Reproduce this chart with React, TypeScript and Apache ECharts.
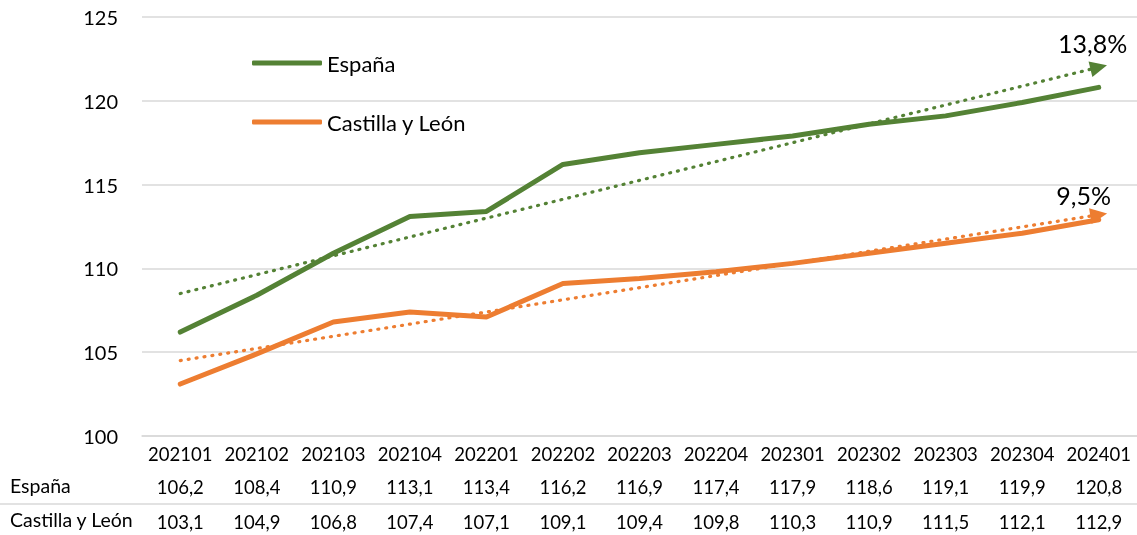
import React, { useEffect, useRef } from "react";
import * as echarts from "echarts";

const categories = ["202101","202102","202103","202104","202201","202202","202203","202204","202301","202302","202303","202304","202401"];
const espana = [106.2,108.4,110.9,113.1,113.4,116.2,116.9,117.4,117.9,118.6,119.1,119.9,120.8];
const castilla = [103.1,104.9,106.8,107.4,107.1,109.1,109.4,109.8,110.3,110.9,111.5,112.1,112.9];
const trendEspana = [108.5, 122.0];
const trendCastilla = [104.5, 113.2];
const trendLabels = ["13,8%", "9,5%"];
const seriesNames = ["España", "Castilla y León"];
const yTicks = { min: 100, max: 125, interval: 5 };

const GREEN = "#548235";
const ORANGE = "#ED7D31";
const FONT = "Lato, 'Open Sans', sans-serif";
const fmt = (v: number) => v.toFixed(1).replace(".", ",");

export default function App() {
  const ref = useRef<HTMLDivElement>(null);
  useEffect(() => {
    if (!ref.current) return;
    const chart = echarts.init(ref.current, undefined, { renderer: "svg" });
    const tableAxis = (data: string[], offset: number) => ({
      type: "category",
      data,
      gridIndex: 0,
      position: "bottom",
      offset,
      axisLine: { show: false },
      axisTick: { show: false },
      axisLabel: { fontSize: 18.5, color: "#000", fontFamily: FONT, interval: 0, margin: 9 },
      splitLine: { show: false },
    });
    const trend = (vals: number[], color: string) => ({
      silent: true,
      symbol: ["none", "triangle"],
      symbolSize: [16, 17],
      label: { show: false },
      lineStyle: { color, width: 3.2, type: [1, 7], cap: "round" },
      emphasis: { disabled: true },
      data: [[{ coord: [categories[0], vals[0]] }, { coord: [categories[12], vals[1]] }]],
    });
    const pct = (vals: number[], label: string, offset: number[]) => ({
      silent: true,
      symbol: "circle",
      symbolSize: 0,
      label: { show: true, formatter: label, fontSize: 25, color: "#000", fontFamily: FONT, position: "top", offset },
      data: [{ coord: [categories[12], vals[1]] }],
    });
    chart.setOption({
      animation: false,
      grid: { left: 142, width: 996, top: 17, bottom: 99 },
      legend: {
        left: 247,
        top: 47,
        orient: "vertical",
        itemWidth: 70,
        itemHeight: 5,
        itemGap: 37,
        icon: "roundRect",
        textStyle: { fontSize: 22, color: "#000", fontFamily: FONT },
        data: seriesNames,
      },
      xAxis: [
        {
          type: "category",
          data: categories,
          boundaryGap: true,
          axisLine: { show: true, lineStyle: { color: "#d9d9d9", width: 1.5 } },
          axisTick: { show: false },
          axisLabel: { fontSize: 18.5, color: "#000", fontFamily: FONT, margin: 8, interval: 0 },
        },
        tableAxis(espana.map(fmt), 32),
        tableAxis(castilla.map(fmt), 67),
      ],
      yAxis: {
        type: "value",
        min: yTicks.min,
        max: yTicks.max,
        interval: yTicks.interval,
        axisLine: { show: false },
        axisTick: { show: false },
        axisLabel: { fontSize: 20, color: "#000", fontFamily: FONT, margin: 24 },
        splitLine: { lineStyle: { color: "#d9d9d9", width: 1.5 } },
      },
      graphic: [
        { type: "text", left: 10, top: 475, style: { text: seriesNames[0], fontSize: 19.5, fill: "#000", fontFamily: FONT } },
        { type: "text", left: 10, top: 509, style: { text: seriesNames[1], fontSize: 19.5, fill: "#000", fontFamily: FONT } },
        { type: "line", shape: { x1: 0, y1: 504, x2: 1137, y2: 504 }, style: { stroke: "#d9d9d9", lineWidth: 1.5 } },
      ],
      series: [
        {
          name: seriesNames[0],
          type: "line",
          data: espana,
          symbol: "none",
          lineStyle: { color: GREEN, width: 5, cap: "round" },
          itemStyle: { color: GREEN },
          markLine: trend(trendEspana, GREEN),
          markPoint: pct(trendEspana, trendLabels[0], [-6, -7]),
          z: 3,
        },
        {
          name: seriesNames[1],
          type: "line",
          data: castilla,
          symbol: "none",
          lineStyle: { color: ORANGE, width: 5, cap: "round" },
          itemStyle: { color: ORANGE },
          markLine: trend(trendCastilla, ORANGE),
          markPoint: pct(trendCastilla, trendLabels[1], [-15, -2]),
          z: 3,
        },
      ],
    });
    return () => chart.dispose();
  }, []);
  return <div ref={ref} style={{ position: "fixed", left: 0, top: 0, width: 1137, height: 535 }} />;
}
